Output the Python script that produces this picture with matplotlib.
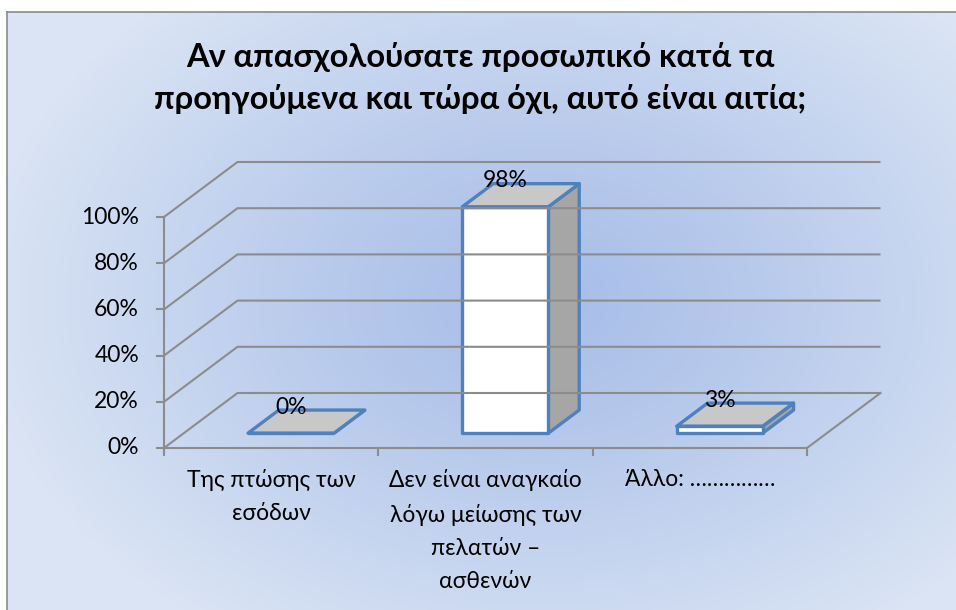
import numpy as np
import matplotlib.pyplot as plt
from matplotlib.patches import Polygon

plt.rcParams['font.family'] = ['Lato', 'DejaVu Sans']

# chart data
categories = ['Της πτώσης των\nεσόδων',
              'Δεν είναι αναγκαίο\nλόγω μείωσης των\nπελατών –\nασθενών',
              'Άλλο: ……………']
values = [0, 98, 3]
value_labels = ['0%', '98%', '3%']
yticks = [0, 20, 40, 60, 80, 100]
ytick_labels = ['0%', '20%', '40%', '60%', '80%', '100%']
title = 'Αν απασχολούσατε προσωπικό κατά τα\nπροηγούμενα και τώρα όχι, αυτό είναι αιτία;'

W, H = 956, 610
fig = plt.figure(figsize=(W / 100, H / 100), dpi=100)

# radial gradient background
bg = fig.add_axes([0, 0, 1, 1])
yy, xx = np.mgrid[0:H, 0:W]
r = np.sqrt(((xx - 540) / 560.0) ** 2 + ((yy - 300) / 400.0) ** 2)
r = np.clip(r, 0, 1)[..., None]
inner = np.array([168, 190, 232]) / 255.0
outer = np.array([218, 228, 244]) / 255.0
img = inner + (outer - inner) * r ** 1.2
img[:12, :, :] = 1.0
img[:, :7, :] = 1.0
bg.imshow(img, extent=(0, W, H, 0), aspect='auto')
bg.plot([7, W], [12, 12], color='#8a8a8a', lw=1.2)
bg.plot([7, 7], [12, H], color='#8a8a8a', lw=1.2)
bg.set_xlim(0, W)
bg.set_ylim(H, 0)
bg.axis('off')

# main axes: x in category units, y in percent (front plane)
x_left, x_right, y_base, y_top = 164, 807, 448, 217
xs = (x_right - x_left) / len(categories)
ys = (y_base - y_top) / 100.0
ax = fig.add_axes([0, 0, 1, 1])
ax.patch.set_alpha(0)
ax.set_xlim(-x_left / xs, (W - x_left) / xs)
ax.set_ylim(-(H - y_base) / ys, y_base / ys)
ax.axis('off')

DX, DY = 73.5 / xs, 55.0 / ys   # depth vector
n = len(categories)
grid = '#8c8c8c'


def proj(x, y, d):
    return (x + d * DX, y + d * DY)


# walls and gridlines
for t, lab in zip(yticks, ytick_labels):
    p0, p1, p2 = proj(0, t, 0), proj(0, t, 1), proj(n, t, 1)
    ax.plot([p0[0], p1[0], p2[0]], [p0[1], p1[1], p2[1]], color=grid, lw=1.5,
            solid_capstyle='butt')
    ax.plot([-7 / xs, 0], [t, t], color=grid, lw=1.5)
    ax.text(-25 / xs, t, lab, ha='right', va='center', fontsize=16.5)
ax.plot([0, 0], [0, 100], color=grid, lw=1.5)
fr = proj(n, 0, 1)
ax.plot([0, n, fr[0]], [0, 0, fr[1]], color=grid, lw=1.5)
for i in range(n + 1):
    ax.plot([i, i], [0, -7 / ys], color=grid, lw=1.5)

# 3D bars
bw = 86 / xs
f0, f1 = 0.27, 0.69
edge = '#4f81bd'
for i, v in enumerate(values):
    cx = i + 0.5
    xl, xr = cx - bw / 2, cx + bw / 2
    top = [proj(xl, v, f0), proj(xr, v, f0), proj(xr, v, f1), proj(xl, v, f1)]
    side = [proj(xr, 0, f0), proj(xr, v, f0), proj(xr, v, f1), proj(xr, 0, f1)]
    front = [proj(xl, 0, f0), proj(xr, 0, f0), proj(xr, v, f0), proj(xl, v, f0)]
    for pts, fc in [(side, '#a6a6a6'), (top, '#c8c8c8'), (front, 'white')]:
        ax.add_patch(Polygon(pts, closed=True, facecolor=fc, edgecolor=edge,
                             lw=2.4, joinstyle='round'))
    lx, ly = proj(cx, v, f0)[0], proj(cx, v, f1)[1]
    ax.text(lx, ly + 1.3, value_labels[i], ha='center', va='center', fontsize=16.5)

# category labels
for i, c in enumerate(categories):
    ax.text(i + 0.5, -21 / ys, c, ha='center', va='top', fontsize=16.5,
            linespacing=1.72)

fig.text(480 / W, 1 - 78 / H, title, ha='center', va='center', fontsize=23.5,
         fontweight='bold', linespacing=1.5)

fig.savefig('out.png', dpi=100)
